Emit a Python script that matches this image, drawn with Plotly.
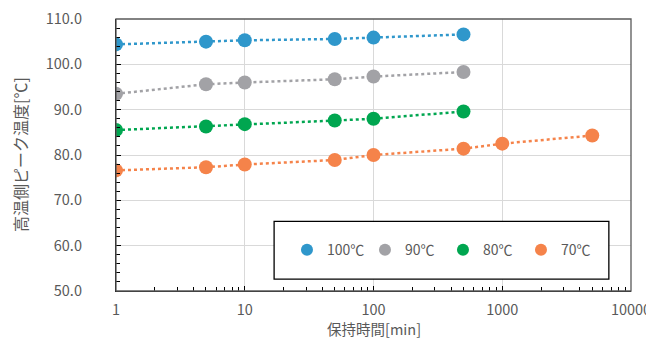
import plotly.graph_objects as go

times_short = [1, 5, 10, 50, 100, 500]
times_long = [1, 5, 10, 50, 100, 500, 1000, 5000]
t100 = [104.4, 105.0, 105.3, 105.6, 105.9, 106.6]
t90 = [93.5, 95.6, 96.0, 96.7, 97.3, 98.3]
t80 = [85.5, 86.3, 86.8, 87.6, 88.0, 89.6]
t70 = [76.6, 77.3, 77.9, 78.9, 80.0, 81.4, 82.5, 84.3]
y_ticks = [50, 60, 70, 80, 90, 100, 110]
x_ticks = [1, 10, 100, 1000, 10000]
x_title = "保持時間[min]"
y_title = "高温側ピーク温度[℃]"

series = [
    ("100℃", times_short, t100, "#2F97CB"),
    ("90℃", times_short, t90, "#A2A2A6"),
    ("80℃", times_short, t80, "#00A650"),
    ("70℃", times_long, t70, "#F5834A"),
]

font = "Noto Sans CJK JP"
fig = go.Figure()
for name, xs, ys, col in series:
    fig.add_trace(go.Scatter(
        x=xs, y=ys, name=name, mode="lines+markers", showlegend=False,
        marker=dict(size=14, color=col),
        line=dict(color=col, width=2.5, dash="dot"),
    ))
for name, xs, ys, col in series:
    fig.add_trace(go.Scatter(
        x=[None], y=[None], name=name, mode="markers", showlegend=True,
        marker=dict(size=12, color=col),
    ))

# page body has an 8px margin; compensate
fig.update_layout(
    width=654, height=338,
    margin=dict(l=108, r=31, t=11, b=55),
    paper_bgcolor="white", plot_bgcolor="white",
    font=dict(family=font, color="#595959", size=13),
    showlegend=True,
    legend=dict(
        orientation="h", x=0.332, y=0.15, xanchor="left", yanchor="middle",
        bgcolor="rgba(0,0,0,0)", borderwidth=0,
        font=dict(size=14, color="#595959"),
        itemwidth=30, entrywidth=33,
    ),
    xaxis=dict(
        type="log", range=[0, 4], automargin=False,
        tickvals=x_ticks, ticktext=[str(v) for v in x_ticks],
        showgrid=True, gridcolor="#D9D9D9", gridwidth=1,
        ticks="inside", ticklen=5, tickcolor="#000000",
        minor=dict(ticks="inside", ticklen=4, tickcolor="#000000", showgrid=False,
                   tickvals=[d * m for d in [1, 10, 100, 1000] for m in range(2, 10)]),
        showline=True, linecolor="#000000", linewidth=1.3,
        zeroline=False, ticklabelstandoff=5, ticklabeloverflow="allow",
        tickfont=dict(size=14.5, color="#595959"),
    ),
    yaxis=dict(
        range=[50, 110], automargin=False,
        tickvals=y_ticks, ticktext=[f"{v:.1f}" for v in y_ticks],
        showgrid=True, gridcolor="#D9D9D9", gridwidth=1,
        ticks="inside", ticklen=5, tickcolor="#000000",
        minor=dict(ticks="inside", ticklen=4, tickcolor="#000000", dtick=2, showgrid=False),
        showline=True, linecolor="#000000", linewidth=1.3,
        zeroline=False, ticklabelstandoff=30, ticklabeloverflow="allow",
        tickfont=dict(size=14.5, color="#595959"),
    ),
    annotations=[
        dict(text=x_title, xref="paper", yref="paper", x=0.5, y=0,
             xanchor="center", yanchor="middle", yshift=-37, showarrow=False,
             font=dict(size=14.5, color="#595959")),
        dict(text=y_title, xref="paper", yref="paper", x=0, y=0.5, textangle=-90,
             xanchor="center", yanchor="middle", xshift=-96, showarrow=False,
             font=dict(size=16, color="#595959")),
    ],
)
fig.add_shape(type="rect", xref="paper", yref="paper", x0=0, y0=0, x1=1, y1=1,
              line=dict(color="#595959", width=1.3), layer="above")
fig.add_shape(type="rect", xref="paper", yref="paper",
              x0=0.307, x1=0.957, y0=0.044, y1=0.256,
              line=dict(color="#000000", width=1.3), fillcolor="white", layer="above")
fig.write_html("out.html")
